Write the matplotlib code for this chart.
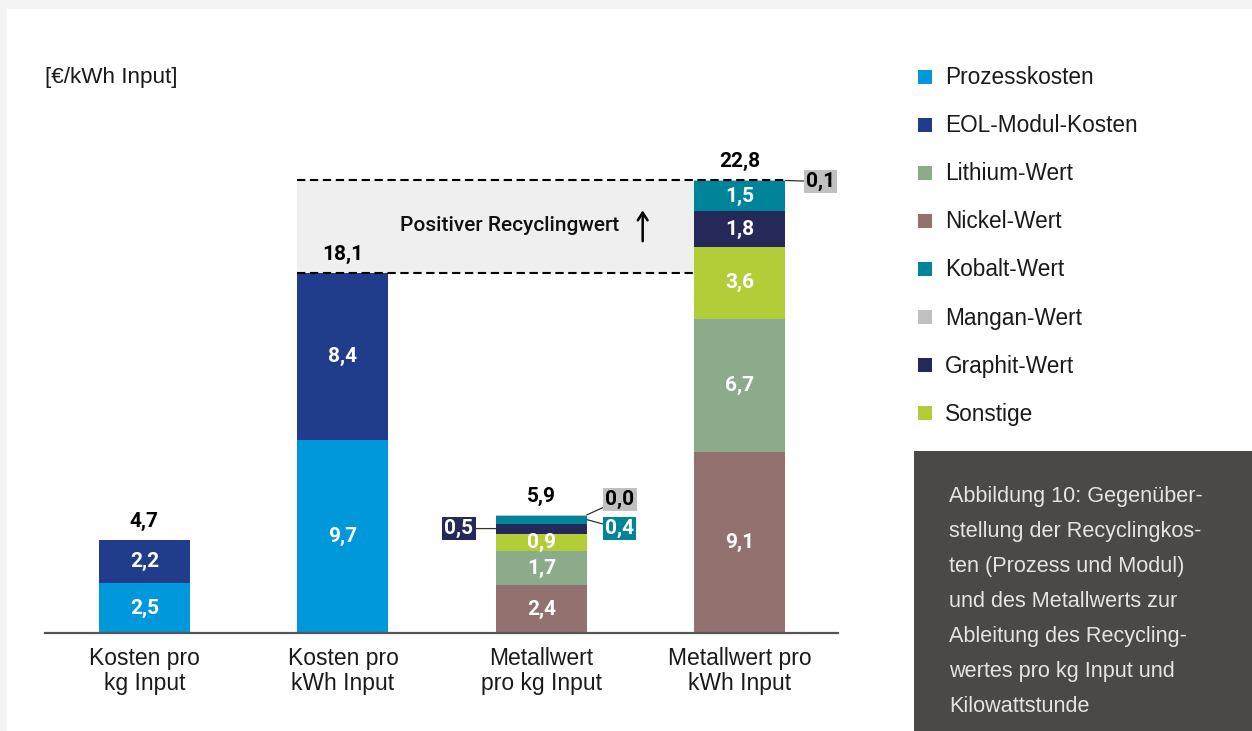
"""Recycling cost vs. metal value, stacked bars (Abbildung 10)."""

import matplotlib.pyplot as plt
import numpy as np
from matplotlib.patches import Rectangle

W, H = 1252, 731

categories = [
    "Kosten pro\nkg Input",
    "Kosten pro\nkWh Input",
    "Metallwert\npro kg Input",
    "Metallwert pro\nkWh Input",
]

# legend order
legend_labels = [
    "Prozesskosten",
    "EOL-Modul-Kosten",
    "Lithium-Wert",
    "Nickel-Wert",
    "Kobalt-Wert",
    "Mangan-Wert",
    "Graphit-Wert",
    "Sonstige",
]

# values per bar (one entry per category)
prozesskosten = [2.5, 9.7, 0.0, 0.0]
eol_modul = [2.2, 8.4, 0.0, 0.0]
nickel = [0.0, 0.0, 2.4, 9.1]
lithium = [0.0, 0.0, 1.7, 6.7]
sonstige = [0.0, 0.0, 0.9, 3.6]
graphit = [0.0, 0.0, 0.5, 1.8]
kobalt = [0.0, 0.0, 0.4, 1.5]
mangan = [0.0, 0.0, 0.04, 0.1]

caption = (
    "Abbildung 10: Gegenüber-\n"
    "stellung der Recyclingkos-\n"
    "ten (Prozess und Modul)\n"
    "und des Metallwerts zur\n"
    "Ableitung des Recycling-\n"
    "wertes pro kg Input und\n"
    "Kilowattstunde"
)

colors = {
    "Prozesskosten": "#0098db",
    "EOL-Modul-Kosten": "#213c8a",
    "Lithium-Wert": "#8bab8b",
    "Nickel-Wert": "#93716e",
    "Kobalt-Wert": "#00849a",
    "Mangan-Wert": "#c0c0c0",
    "Graphit-Wert": "#25295a",
    "Sonstige": "#b3cd39",
}

# stacking order, bottom to top
stack = [
    ("Prozesskosten", prozesskosten),
    ("EOL-Modul-Kosten", eol_modul),
    ("Nickel-Wert", nickel),
    ("Lithium-Wert", lithium),
    ("Sonstige", sonstige),
    ("Graphit-Wert", graphit),
    ("Kobalt-Wert", kobalt),
    ("Mangan-Wert", mangan),
]

SANS = ["Liberation Sans", "DejaVu Sans"]
NUM = ["Roboto", "DejaVu Sans"]


def fmt(v):
    return f"{v:.1f}".replace(".", ",")


fig = plt.figure(figsize=(W / 100, H / 100), dpi=100, facecolor="#f4f4f4")
fig.add_artist(Rectangle((7 / W, 0), 1, 1 - 9 / H, transform=fig.transFigure,
                         facecolor="white", edgecolor="none", zorder=0))

px_per_unit = 19.89
ax = fig.add_axes([45 / W, (H - 633) / H, 793 / W, 533 / H])
ax.set_facecolor("none")
ax.set_ylim(0, 533 / px_per_unit)
ax.set_xlim(-0.501, 3.494)
for side in ["left", "right", "top"]:
    ax.spines[side].set_visible(False)
ax.spines["bottom"].set_color("#555555")
ax.spines["bottom"].set_linewidth(1.6)
ax.set_yticks([])

x = np.arange(len(categories))
width = 0.458
bottom = np.zeros(len(categories))
small = []  # (bar index, name, bottom, value)
for name, vals in stack:
    vals = np.array(vals)
    ax.bar(x, vals, width, bottom=bottom, color=colors[name], zorder=2)
    for i, v in enumerate(vals):
        if v <= 0:
            continue
        if v >= 0.8:
            ax.text(x[i], bottom[i] + v / 2, fmt(v), ha="center", va="center",
                    color="white", fontsize=15, fontweight="bold",
                    family=NUM, zorder=4)
        else:
            small.append((i, name, bottom[i], v))
    bottom += vals

totals = bottom
for i, t in enumerate(totals):
    ax.text(x[i], t + 0.45, fmt(t), ha="center", va="bottom", color="black",
            fontsize=15, fontweight="bold", family=NUM)

ax.set_xticks(x)
ax.set_xticklabels(categories, fontsize=16.5, family=SANS, color="#1a1a1a",
                   linespacing=1.1)
ax.tick_params(axis="x", length=0, pad=10)

# callouts for the thin segments
offsets = {
    (2, "Graphit-Wert"): ("left", (-37, 0)),
    (2, "Kobalt-Wert"): ("right", (33, -9)),
    (2, "Mangan-Wert"): ("top", (33, 15)),
    (3, "Mangan-Wert"): ("right", (35, -1)),
}
for i, name, b, v in small:
    side, off = offsets[(i, name)]
    if side == "left":
        anchor = (x[i] - width / 2, b + v / 2)
    elif side == "top":
        anchor = (x[i] + width / 2, b + v)
    else:
        anchor = (x[i] + width / 2, b + v / 2)
    txt_color = "black" if name == "Mangan-Wert" else "white"
    ax.annotate(fmt(v), xy=anchor, xycoords="data", xytext=off,
                textcoords="offset pixels", ha="center", va="center",
                fontsize=15, fontweight="bold", family=NUM, color=txt_color,
                bbox=dict(boxstyle="square,pad=0.1", fc=colors[name],
                          ec="none"),
                arrowprops=dict(arrowstyle="-", color="#333333", lw=0.9,
                                shrinkA=0, shrinkB=0),
                zorder=5)

# positive recycling value band
lo, hi = totals[1], totals[3]
x0 = x[1] - width / 2
ax.fill_between([x0, x[3] - width / 2], lo, hi, color="#efefef", zorder=1,
                lw=0)
ax.plot([x0, x[3] - width / 2], [lo, lo], color="black", lw=1.5,
        dashes=(4, 2.2), zorder=3)
ax.plot([x0, x[3] + width / 2], [hi, hi], color="black", lw=1.5,
        dashes=(4, 2.2), zorder=3)
ymid = (lo + hi) / 2
ax.text(1.84, ymid + 0.05, "Positiver Recyclingwert", ha="center",
        va="center", fontsize=15, fontweight="medium", family=NUM,
        color="#111111")
ax.annotate("", xy=(2.51, ymid + 0.8), xytext=(2.51, ymid - 0.75),
            arrowprops=dict(arrowstyle="->,head_length=0.55,head_width=0.35",
                            color="black", lw=1.8, shrinkA=0, shrinkB=0))

fig.text(45 / W, 1 - 77 / H, "[€/kWh Input]", ha="left", va="center",
         fontsize=16.2, family=SANS, color="#1a1a1a")

# legend
for k, label in enumerate(legend_labels):
    yc = 77 + 48 * k
    fig.add_artist(Rectangle((918 / W, 1 - (yc + 7) / H), 14 / W, 14 / H,
                             transform=fig.transFigure,
                             facecolor=colors[label], edgecolor="none"))
    fig.text(945 / W, 1 - (yc + 1) / H, label, ha="left", va="center",
             fontsize=16.3, family=SANS, color="#1a1a1a")

# caption box
fig.add_artist(Rectangle((914 / W, 0), (W - 914) / W, (H - 451) / H,
                         transform=fig.transFigure, facecolor="#4a4948",
                         edgecolor="none"))
fig.text(949 / W, 1 - 486 / H, caption, ha="left", va="top", fontsize=15.6,
         family=SANS, color="#e4e4e4", linespacing=1.87)

fig.savefig("out.png", dpi=100, facecolor=fig.get_facecolor())
